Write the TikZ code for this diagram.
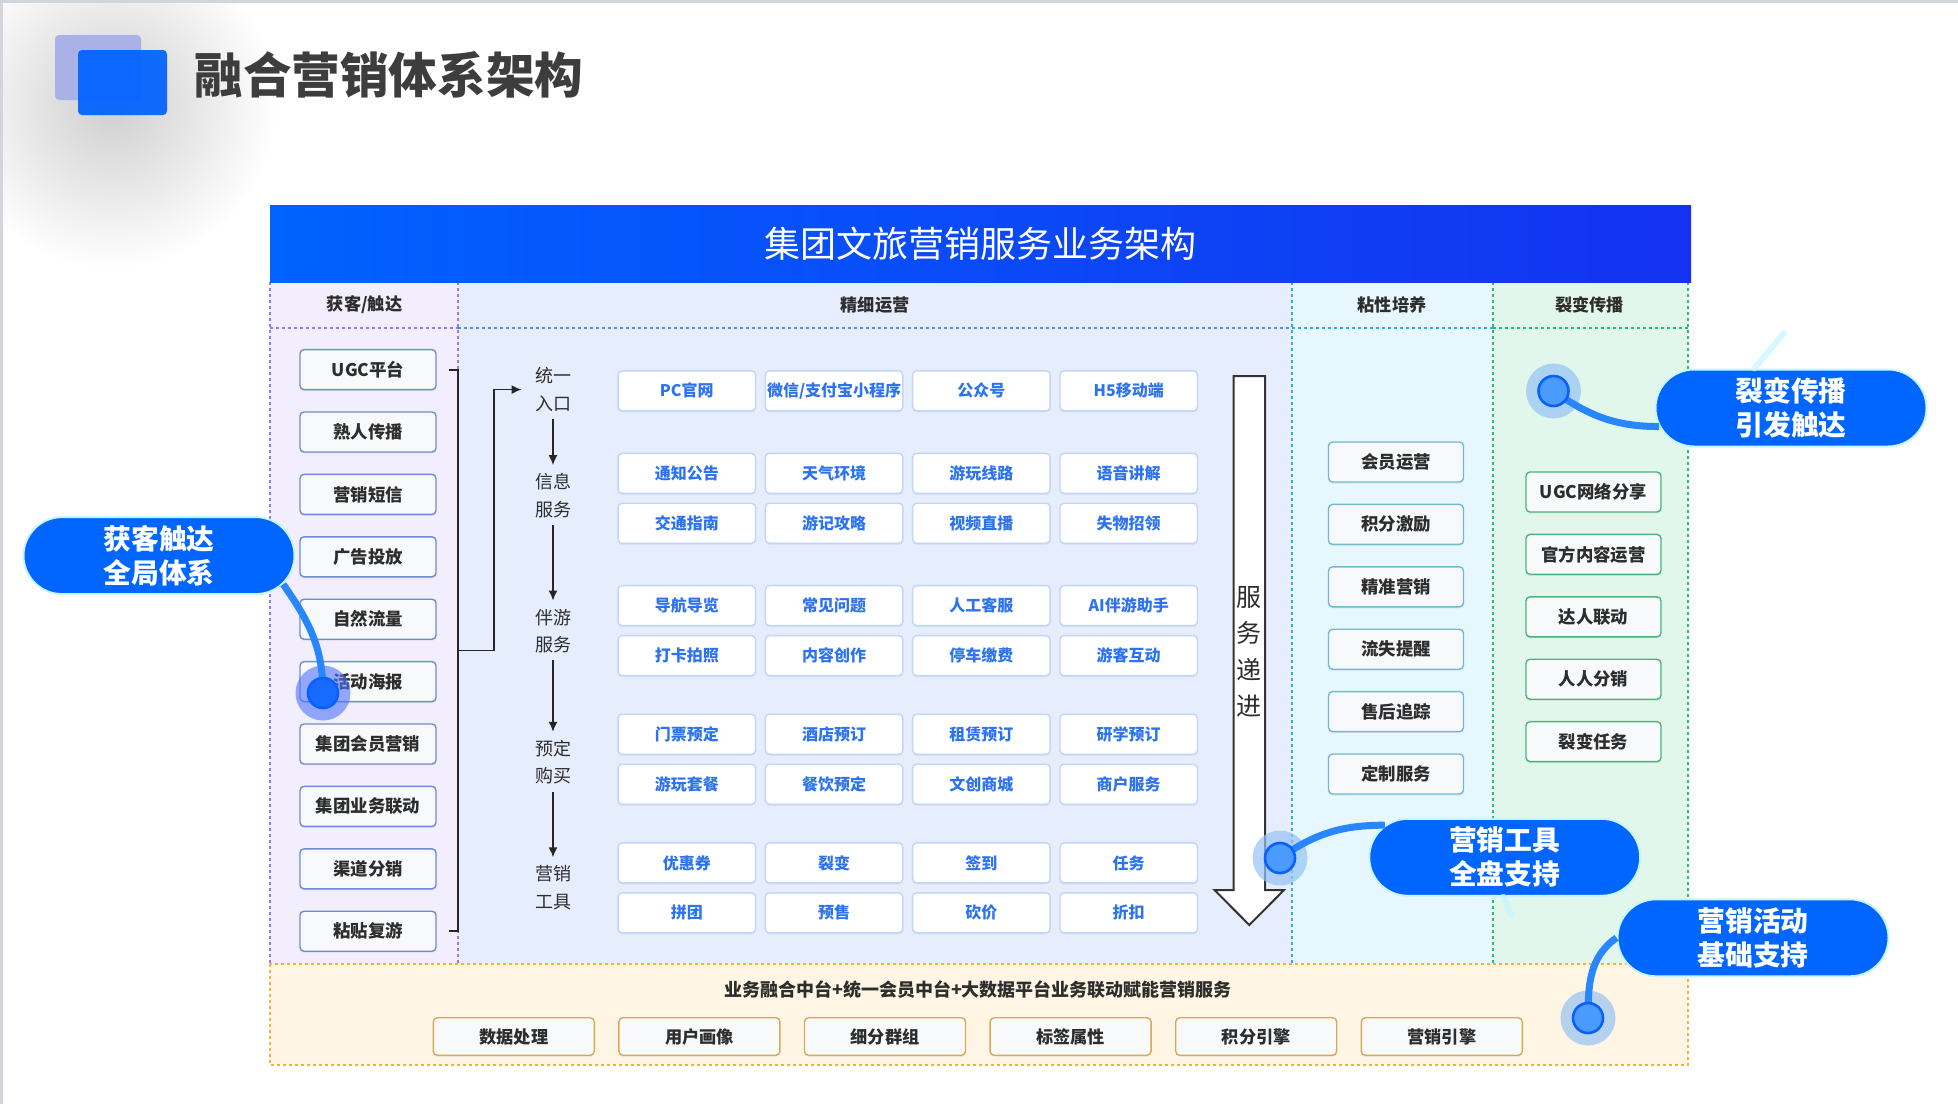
\documentclass[tikz,border=0pt]{standalone}
\usepackage{fontspec}
\setmainfont{Noto Sans CJK SC}
\usetikzlibrary{arrows.meta,calc,positioning,shapes.misc,shadows}
\definecolor{titleink}{RGB}{61,61,61}
\definecolor{inkdark}{RGB}{45,45,45}
\definecolor{iconback}{RGB}{168,178,230}
\definecolor{iconfront}{RGB}{0,98,255}
\definecolor{barleft}{RGB}{0,98,255}
\definecolor{barright}{RGB}{20,50,240}
\definecolor{acqbg}{RGB}{242,238,253}
\definecolor{acqedge}{RGB}{150,120,240}
\definecolor{opsbg}{RGB}{230,238,253}
\definecolor{opsedge}{RGB}{90,140,240}
\definecolor{stickbg}{RGB}{230,247,254}
\definecolor{stickedge}{RGB}{50,170,230}
\definecolor{fissbg}{RGB}{225,247,236}
\definecolor{fissedge}{RGB}{40,190,120}
\definecolor{bandbg}{RGB}{255,245,228}
\definecolor{bandedge}{RGB}{240,180,60}
\definecolor{leftline}{RGB}{110,140,210}
\definecolor{svcline}{RGB}{195,213,248}
\definecolor{svcink}{RGB}{45,115,240}
\definecolor{stickline}{RGB}{115,185,210}
\definecolor{fissline}{RGB}{75,180,125}
\definecolor{bandline}{RGB}{215,170,85}
\definecolor{boxfill}{RGB}{248,249,251}
\definecolor{pillblue}{RGB}{0,102,255}
\definecolor{pillrim}{RGB}{200,245,255}
\definecolor{linkblue}{RGB}{40,135,255}
\definecolor{haloblue}{RGB}{150,195,245}
\definecolor{halodeep}{RGB}{80,115,255}
\definecolor{dotfill}{RGB}{75,155,255}
\definecolor{dotedge}{RGB}{10,95,255}
\definecolor{framegray}{RGB}{210,214,218}
\newcommand{\fsz}[2]{\fontsize{#1}{#2}\selectfont}

\tikzset{
  colhead/.style={font=\bfseries\fsz{8.6}{10}, text=inkdark},
  box/.style={rounded corners=2pt, minimum height=20pt, inner sep=0pt, line width=0.7pt,
    font=\bfseries\fsz{8.7}{10}, text=inkdark,
    drop shadow={shadow xshift=0pt, shadow yshift=-0.8pt, opacity=0.12}},
  acqbox/.style={box, draw=leftline, fill=boxfill, minimum width=68pt},
  svcbox/.style={box, draw=svcline, fill=white, text=svcink, minimum width=68.75pt,
    font=\bfseries\fsz{8}{10}},
  stickbox/.style={box, draw=stickline, fill=boxfill, minimum width=67.5pt},
  fissbox/.style={box, draw=fissline, fill=boxfill, minimum width=67.5pt},
  bandbox/.style={box, draw=bandline, fill=boxfill, minimum width=80.5pt, minimum height=18.75pt,
    font=\bfseries\fsz{8.6}{10}},
  stage/.style={align=center, inner sep=0pt, font=\fsz{9}{13.75}, text=inkdark},
  flow/.style={-{Latex[length=5pt,width=4.5pt]}, line width=0.8pt, draw=black!85},
  brace/.style={line width=0.9pt, draw=black!85},
  sep/.style={dash pattern=on 1.6pt off 1.4pt, line width=0.6pt},
  pill/.style={rounded rectangle, fill=pillblue, draw=pillrim, line width=1pt, inner sep=0pt,
    minimum width=135.5pt, minimum height=38.5pt, text=white, align=center,
    font=\bfseries\fsz{13.9}{16.9}},
  link/.style={draw=linkblue, line width=3.5pt},
  faint/.style={draw=pillrim, line width=3pt, opacity=0.7, line cap=round},
  halo/.style={circle, fill=haloblue, fill opacity=0.7, minimum size=27.5pt, inner sep=0pt},
  dot/.style={circle, fill=dotfill, draw=dotedge, line width=1.3pt, minimum size=15pt, inner sep=0pt}
}

\begin{document}
\begin{tikzpicture}[x=0.5pt,y=-0.5pt]
  \useasboundingbox (0,0) rectangle (1958,1104);
  % soft shadow behind the icon
  \shade[inner color=black!19, outer color=white] (112,104) circle (165);
  \draw[framegray, line width=1.5pt] (1,1104) -- (1,1) -- (1958,1);

  % page title
  \fill[iconback, rounded corners=2pt] (55,35) rectangle (141,100);
  \fill[iconfront, fill opacity=0.93, rounded corners=2pt] (78,50) rectangle (167,115);
  \node[anchor=west, inner sep=0pt, text=titleink, font=\bfseries\fsz{24.3}{28}] (title) at (194,75) {融合营销体系架构};

  % column backgrounds
  \fill[acqbg] (270,282) rectangle (458,964);
  \fill[opsbg] (458,282) rectangle (1292,964);
  \fill[stickbg] (1292,282) rectangle (1493,964);
  \fill[fissbg] (1493,282) rectangle (1688,964);
  \fill[bandbg] (270,964) rectangle (1688,1065);
  \draw[sep, acqedge] (270,282) -- (270,964) (270,328) -- (458,328) (458,282) -- (458,964);
  \draw[sep, opsedge] (458,328) -- (1292,328);
  \draw[sep, stickedge] (1292,282) -- (1292,964) (1292,328) -- (1493,328);
  \draw[sep, fissedge] (1493,282) -- (1493,964) (1493,328) -- (1688,328) (1688,282) -- (1688,964);
  \draw[sep, bandedge] (270,964) rectangle (1688,1065);

  \node[left color=barleft, right color=barright, minimum width=710.5pt, minimum height=38.5pt,
    inner sep=0pt, text=white, font=\fsz{18}{20}] (bar) at (980.5,243.5) {集团文旅营销服务业务架构};

  \node[colhead] (h1) at (364.6,304.7) {获客/触达};
  \node[colhead] (h2) at (875,304.7) {精细运营};
  \node[colhead] (h3) at (1392,304.7) {粘性培养};
  \node[colhead] (h4) at (1589.6,304.7) {裂变传播};

  % acquisition channels
  \foreach \t [count=\i] in {UGC平台,熟人传播,营销短信,广告投放,自然流量,活动海报,集团会员营销,集团业务联动,渠道分销,粘贴复游}
    \node[acqbox] (l\i) at (368,{369.6+62.4*(\i-1)}) {\t};
  \draw[brace] ([xshift=6pt]l1.east) -- ++(4.5pt,0) |- ([xshift=6pt]l10.east);
  \coordinate (bk) at ($([xshift=10.5pt]l1.east)!0.5!([xshift=10.5pt]l10.east)$);

  % service stages
  \node[stage] (s1) at (553,389.6) {统一\\入口};
  \node[stage] (s2) at (553,495.7) {信息\\服务};
  \node[stage] (s3) at (553,631) {伴游\\服务};
  \node[stage] (s4) at (553,762.3) {预定\\购买};
  \node[stage] (s5) at (553,887.8) {营销\\工具};
  \draw[flow] (bk) -- ++(18pt,0) |- ([xshift=-6.5pt]s1.west);
  \foreach \a/\b in {s1/s2,s2/s3,s3/s4,s4/s5}
    \draw[flow, shorten <=3.5pt, shorten >=4pt] (\a) -- (\b);

  \foreach \yy/\row [count=\r] in {
      390.8/{PC官网,微信/支付宝小程序,公众号,H5移动端},
      473.3/{通知公告,天气环境,游玩线路,语音讲解},
      523.2/{交通指南,游记攻略,视频直播,失物招领},
      605.6/{导航导览,常见问题,人工客服,AI伴游助手},
      655.6/{打卡拍照,内容创作,停车缴费,游客互动},
      734.2/{门票预定,酒店预订,租赁预订,研学预订},
      784.2/{游玩套餐,餐饮预定,文创商城,商户服务},
      862.9/{优惠券,裂变,签到,任务},
      912.8/{拼团,预售,砍价,折扣}}
    \foreach \t [count=\c] in \row
      \node[svcbox] (g\r-\c) at ({686.8+147.3*(\c-1)},\yy) {\t};

  % service progression arrow
  \draw[fill=white, draw=black!80, line width=1pt, line join=miter]
    (1233.5,376) -- (1265,376) -- (1265,890) -- (1284,890) -- (1249.3,925)
    -- (1214.5,890) -- (1233.5,890) -- cycle;
  \node[align=center, inner sep=0pt, text=inkdark, font=\fsz{12.5}{18.25}] (prog) at (1249.3,652) {服\\务\\递\\进};

  % loyalty and fission
  \foreach \t [count=\i] in {会员运营,积分激励,精准营销,流失提醒,售后追踪,定制服务}
    \node[stickbox] (k\i) at (1396,{462+62.4*(\i-1)}) {\t};
  \foreach \t [count=\i] in {UGC网络分享,官方内容运营,达人联动,人人分销,裂变任务}
    \node[fissbox] (f\i) at (1593.5,{492+62.4*(\i-1)}) {\t};

  % platform band
  \node[colhead, font=\bfseries\fsz{9}{10}] (bandtitle) at (978,990) {业务融合中台+统一会员中台+大数据平台业务联动赋能营销服务};
  \foreach \t [count=\i] in {数据处理,用户画像,细分群组,标签属性,积分引擎,营销引擎}
    \node[bandbox] (b\i) at ({513.8+185.6*(\i-1)},1036.5) {\t};

  % callouts
  \node[pill] (p1) at (159,555.6) {获客触达\\全局体系};
  \node[pill] (p2) at (1791,408) {裂变传播\\引发触达};
  \node[pill] (p3) at (1504.7,857.3) {营销工具\\全盘支持};
  \node[pill] (p4) at (1753,937.8) {营销活动\\基础支持};

  \draw[faint] (p2.133) -- (1784,333);
  \draw[faint] (p3.-92) -- (1511,915);

  \node[halo, fill=halodeep, fill opacity=0.6] (h1) at (323,693) {};
  \node[halo] (h2) at (1553.5,391) {};
  \node[halo] (h3) at (1280,858) {};
  \node[halo] (h4) at (1588,1018) {};

  \draw[link] (p1.-13) to[out=-55, in=90] (h1.center);
  \draw[link] (h2.center) to[out=-35, in=180] (p2.188);
  \draw[link] (h3.center) to[out=35, in=180] (p3.165);
  \draw[link] (h4.center) to[out=90, in=215] (p4.west);

  \node[dot, fill=dotedge!80!dotfill] (d1) at (h1) {};
  \node[dot] (d2) at (h2) {};
  \node[dot] (d3) at (h3) {};
  \node[dot] (d4) at (h4) {};
\end{tikzpicture}
\end{document}
